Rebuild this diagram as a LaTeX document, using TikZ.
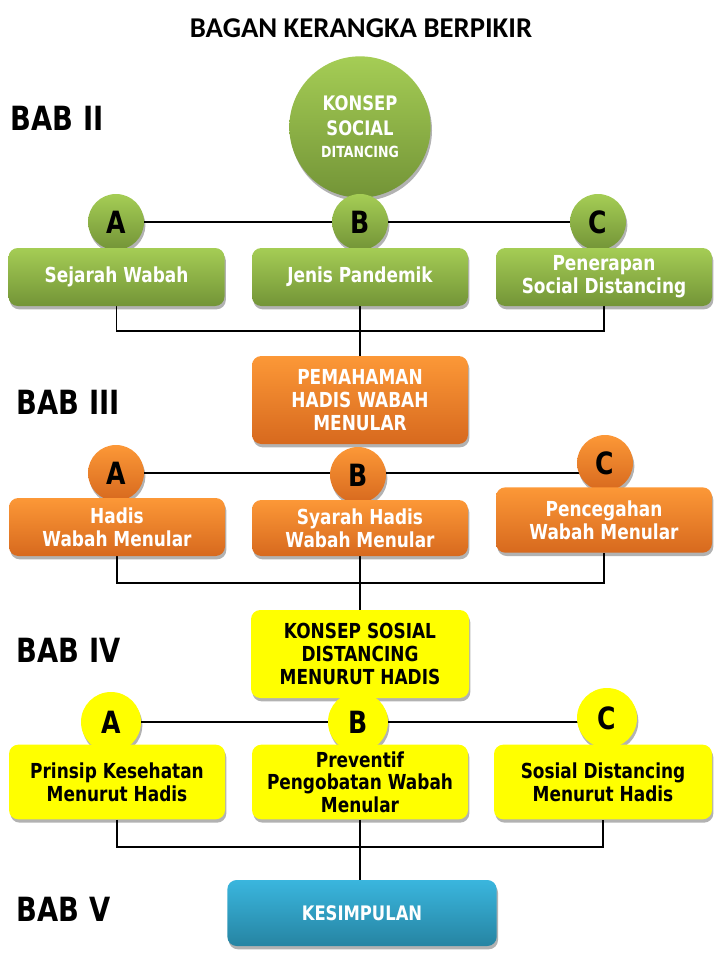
\documentclass[tikz,border=0pt]{standalone}
\usepackage{fontspec}
\setmainfont{DejaVu Sans}[FakeStretch=0.82]
\newfontfamily\titlefont{Carlito}
\usetikzlibrary{shadows,backgrounds}
\definecolor{gtop}{RGB}{165,205,85}
\definecolor{gbot}{RGB}{115,148,55}
\definecolor{otop}{RGB}{252,152,55}
\definecolor{obot}{RGB}{215,105,30}
\definecolor{btop}{RGB}{58,182,222}
\definecolor{bbot}{RGB}{38,132,162}
\definecolor{ylw}{RGB}{255,255,0}
\tikzset{
  shd/.style={drop shadow={shadow xshift=1pt, shadow yshift=-2.5pt, opacity=0.3, fill=black}},
  boxbase/.style={rounded corners=7pt, minimum width=162pt, minimum height=43.5pt, align=center,
    font=\bfseries\fontsize{15.5}{17}\selectfont, inner sep=2pt, shd},
  gbox/.style={boxbase, top color=gtop, bottom color=gbot, text=white},
  obox/.style={boxbase, top color=otop, bottom color=obot, text=white},
  ybox/.style={boxbase, fill=ylw, text=black},
  bbox/.style={boxbase, top color=btop, bottom color=bbot, text=white},
  letter/.style={circle, minimum size=42pt, inner sep=0pt, font=\bfseries\fontsize{23}{23}\selectfont, text=black, shd},
  gcirc/.style={letter, top color=gtop, bottom color=gbot},
  ocirc/.style={letter, top color=otop, bottom color=obot},
  ycirc/.style={letter, fill=ylw},
  bab/.style={anchor=west, font=\bfseries\fontsize{25}{25}\selectfont},
  conn/.style={draw=black, line width=0.9pt}
}
\begin{document}
\begin{tikzpicture}[x=0.75pt, y=-0.75pt]
\useasboundingbox (0,0) rectangle (720,960);
% title
\node[font=\titlefont\bfseries\fontsize{21.5}{21.5}\selectfont] (title) at (361,28) {BAGAN KERANGKA BERPIKIR};
% BAB labels
\node[bab] (bab2) at (6,118) {BAB II};
\node[bab] (bab3) at (12,402) {BAB III};
\node[bab] (bab4) at (12,650) {BAB IV};
\node[bab] (bab5) at (12,909) {BAB V};
% BAB II
\node[circle, minimum size=106pt, inner sep=0pt, top color=gtop, bottom color=gbot, text=white, align=center, shd,
      font=\bfseries\fontsize{15}{18.5}\selectfont] (konsep) at (360,127)
  {KONSEP\\SOCIAL\\[-2pt]{\fontsize{11.5}{13}\selectfont DITANCING}};
\node[gcirc] (a1) at (116,222) {A};
\node[gcirc] (b1) at (360,222) {B};
\node[gcirc] (c1) at (598,222) {C};
\node[gbox] (g1) at (116.5,277) {Sejarah Wabah};
\node[gbox] (g2) at (360,277) {Jenis Pandemik};
\node[gbox] (g3) at (604,277) {Penerapan\\Social Distancing};
% BAB III
\node[obox, minimum height=66pt] (otop) at (360,400) {PEMAHAMAN\\HADIS WABAH\\MENULAR};
\node[ocirc] (a2) at (116,473) {A};
\node[ocirc] (b2) at (358,475) {B};
\node[ocirc] (c2) at (605,463) {C};
\node[obox] (o1) at (117,527) {Hadis\\Wabah Menular};
\node[obox, minimum height=42pt] (o2) at (360,528) {Syarah Hadis\\Wabah Menular};
\node[obox, minimum height=49pt] (o3) at (604,520) {Pencegahan\\Wabah Menular};
% BAB IV
\node[ybox, minimum height=66pt, minimum width=163.5pt] (ytop) at (360,654) {KONSEP SOSIAL\\DISTANCING\\MENURUT HADIS};
\node[ycirc, minimum size=45pt] (a3) at (111,722) {A};
\node[ycirc, minimum size=45pt] (b3) at (358,722) {B};
\node[ycirc, minimum size=45pt] (c3) at (607,718) {C};
\node[ybox, minimum height=56pt] (y1) at (117,782) {Prinsip Kesehatan\\Menurut Hadis};
\node[ybox, minimum height=56pt] (y2) at (360,782) {Preventif\\Pengobatan Wabah\\Menular};
\node[ybox, minimum height=56pt, minimum width=163.5pt] (y3) at (603,782) {Sosial Distancing\\Menurut Hadis};
% BAB V
\node[bbox, minimum width=202pt, minimum height=49.5pt] (kes) at (362,913) {\fontsize{15}{17}\selectfont KESIMPULAN};
% junction coordinates
\coordinate (j1) at (360,331);
\coordinate (j2) at (360,583);
\coordinate (j3) at (360,847);
\begin{pgfonlayer}{background}
  \draw[conn] (a1) -- (c1);
  \draw[conn] (a1) -- (g1);
  \draw[conn] (c1) -- (g3);
  \draw[conn] (g1.south) |- (j1) -| (g3.south);
  \draw[conn] (g2.south) -- (otop.north);
  \draw[conn] (a2) -- (a2 -| c2);
  \draw[conn] (c2) -- (o3);
  \draw[conn] (o1.south) |- (j2) -| (o3.south);
  \draw[conn] (o2.south) -- (ytop.north);
  \draw[conn] (a3) -- (a3 -| c3);
  \draw[conn] (y1.south) |- (j3) -| (y3.south);
  \draw[conn] (y2.south) -- (y2.south |- kes.north);
\end{pgfonlayer}
\end{tikzpicture}
\end{document}
